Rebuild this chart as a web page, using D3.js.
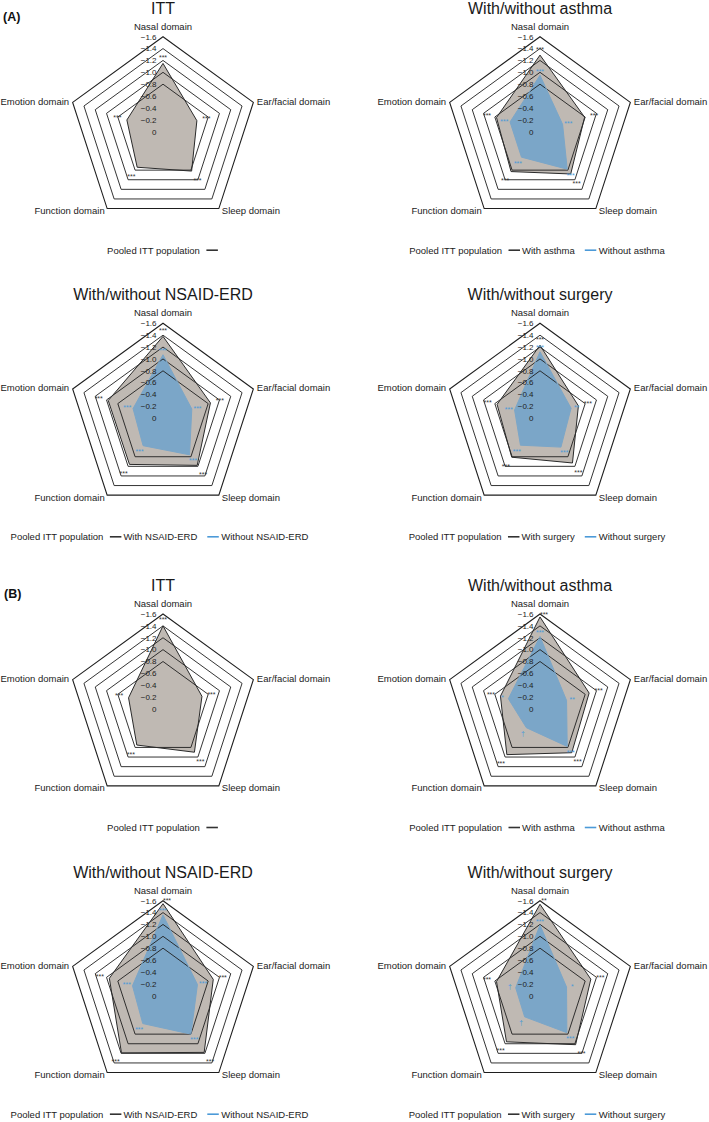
<!DOCTYPE html>
<html><head><meta charset="utf-8">
<script src="https://cdn.jsdelivr.net/npm/d3@7"></script>
<style>body{margin:0;background:#fff}svg{display:block;font-family:"Liberation Sans",Arial,sans-serif}</style>
</head><body><svg id="c" width="709" height="1122"></svg>
<script>
// ---------- data ----------
const axes = ["Nasal domain","Ear/facial domain","Sleep domain","Function domain","Emotion domain"];
const tickValues = [0,-0.2,-0.4,-0.6,-0.8,-1.0,-1.2,-1.4,-1.6];
const ringValues = [-0.8,-1.0,-1.2,-1.4,-1.6];
const titles = ["ITT","With/without asthma","With/without NSAID-ERD","With/without surgery"];
const legendCaption = "Pooled ITT population";
const withNames = ["","With asthma","With NSAID-ERD","With surgery"];
const withoutNames = [null,"Without asthma","Without NSAID-ERD","Without surgery"];
const panels = ["(A)","(B)"];

// Panel A  (order: Nasal, Ear/facial, Sleep, Function, Emotion)
const aItt            = [-1.15,-0.60,-0.82,-0.74,-0.64];
const aIttSig         = ["***","***","***","***","***"];
const aAsthmaWith     = [-1.29,-0.79,-0.88,-0.83,-0.77];
const aAsthmaWithSig  = ["***","***","***","***","***"];
const aAsthmaWithout  = [-0.95,-0.40,-0.78,-0.53,-0.53];
const aAsthmaWithoutSig = ["***","***","***","***","***"];
const aNsaidWith      = [-1.38,-0.84,-0.98,-0.96,-0.97];
const aNsaidWithSig   = ["***","***","***","***","***"];
const aNsaidWithout   = [-1.07,-0.51,-0.76,-0.57,-0.53];
const aNsaidWithoutSig = ["***","***","***","***","***"];
const aSurgWith       = [-1.23,-0.68,-0.93,-0.81,-0.76];
const aSurgWithSig    = ["***","***","***","***","***"];
const aSurgWithout    = [-1.12,-0.55,-0.60,-0.56,-0.45];
const aSurgWithoutSig = ["***","**","***","***","***"];

// Panel B
const bItt            = [-1.40,-0.69,-0.90,-0.75,-0.61];
const bIttSig         = ["***","***","***","***","***"];
const bAsthmaWith     = [-1.55,-0.87,-0.91,-0.95,-0.70];
const bAsthmaWithSig  = ["***","***","***","***","***"];
const bAsthmaWithout  = [-1.22,-0.47,-0.78,-0.39,-0.56];
const bAsthmaWithoutSig = ["***","**","***","†","*"];
const bNsaidWith      = [-1.55,-0.89,-1.18,-1.19,-0.95];
const bNsaidWithSig   = ["***","***","***","***","***"];
const bNsaidWithout   = [-1.36,-0.61,-0.80,-0.58,-0.54];
const bNsaidWithoutSig = ["***","***","***","***","***"];
const bSurgWith       = [-1.54,-0.90,-1.02,-0.96,-0.77];
const bSurgWithSig    = ["**","***","***","***","***"];
const bSurgWithout    = [-1.19,-0.47,-0.77,-0.44,-0.43];
const bSurgWithoutSig = ["***","*","***","†","†"];

// ---------- layout ----------
const colX = [163, 540];
const rowY = [131.7, 418.3, 709, 995.7];
const R = 95;
const grayFill = "#bfb9b3", blueFill = "#7ba6c8", blueLine = "#4c9ad8", dark = "#2a2a2a";

const charts = [
  {row:0,col:0,t:0,w:aItt,ws:aIttSig},
  {row:0,col:1,t:1,w:aAsthmaWith,ws:aAsthmaWithSig,o:aAsthmaWithout,os:aAsthmaWithoutSig},
  {row:1,col:0,t:2,w:aNsaidWith,ws:aNsaidWithSig,o:aNsaidWithout,os:aNsaidWithoutSig},
  {row:1,col:1,t:3,w:aSurgWith,ws:aSurgWithSig,o:aSurgWithout,os:aSurgWithoutSig},
  {row:2,col:0,t:0,w:bItt,ws:bIttSig},
  {row:2,col:1,t:1,w:bAsthmaWith,ws:bAsthmaWithSig,o:bAsthmaWithout,os:bAsthmaWithoutSig},
  {row:3,col:0,t:2,w:bNsaidWith,ws:bNsaidWithSig,o:bNsaidWithout,os:bNsaidWithoutSig},
  {row:3,col:1,t:3,w:bSurgWith,ws:bSurgWithSig,o:bSurgWithout,os:bSurgWithoutSig}
];

const svg = d3.select("#c");
const r = d3.scaleLinear().domain([0,-1.6]).range([0,R]);
const ang = d3.scalePoint().domain(d3.range(axes.length)).range([0, 2*Math.PI*(axes.length-1)/axes.length]);
const radial = d3.lineRadial().angle((d,i)=>ang(i)).radius(d=>r(d)).curve(d3.curveLinearClosed);
const ptR = (rr,i)=>{const a=ang(i); return [rr*Math.sin(a), -rr*Math.cos(a)];};

svg.append("text").attr("x",3).attr("y",21).attr("font-size",12.5).attr("font-weight","bold").attr("fill","#111").text(panels[0]);
svg.append("text").attr("x",4).attr("y",598).attr("font-size",12.5).attr("font-weight","bold").attr("fill","#111").text(panels[1]);

charts.forEach(c=>{
  const cx = colX[c.col], cy = rowY[c.row];
  const g = svg.append("g").attr("transform",`translate(${cx},${cy})`);
  g.append("text").attr("x",0).attr("y",-118).attr("text-anchor","middle").attr("font-size",16).attr("fill","#1a1a1a").text(titles[c.t]);
  g.append("path").attr("d",radial(c.w)).attr("fill",grayFill);
  if (c.o) g.append("path").attr("d",radial(c.o)).attr("fill",blueFill);
  ringValues.forEach(v=>{
    g.append("path").attr("d",radial(axes.map(()=>v))).attr("fill","none").attr("stroke","#1e1e1e").attr("stroke-width",v===-1.6?1.1:0.9);
  });
  g.append("path").attr("d",radial(c.w)).attr("fill","none").attr("stroke",dark).attr("stroke-width",1);
  if (c.o) g.append("path").attr("d",radial(c.o)).attr("fill","none").attr("stroke",blueFill).attr("stroke-width",1);
  tickValues.forEach(v=>{
    g.append("text").attr("x",-6.5).attr("y",-r(v)).attr("dy","0.35em").attr("text-anchor","end")
      .attr("font-size",8).attr("fill","#222").text(v===0?"0":"\u2212"+Math.abs(v).toFixed(1));
  });
  const fs = 9.5;
  axes.forEach((name,i)=>{
    const [vx,vy] = ptR(R,i);
    let x=vx, y=vy, anchor="middle";
    if (i===0){ y = vy-7; }
    else if (i===1){ x = vx+3.5; y = vy+2.5; anchor="start"; }
    else if (i===2){ x = vx+3; y = vy+5.5; anchor="start"; }
    else if (i===3){ x = vx-2.5; y = vy+5.5; anchor="end"; }
    else { x = vx-3.5; y = vy+2.5; anchor="end"; }
    g.append("text").attr("x",x).attr("y",y).attr("text-anchor",anchor).attr("font-size",fs).attr("fill","#222").text(name);
  });
  const sig = (vals,labs,col,off,offN)=>{
    vals.forEach((v,i)=>{
      let rr = r(v) + (i===0?offN:off);
      let x, y;
      if (i===0 && rr > R+1) { x = 4; y = -(R+1); }
      else { [x,y] = ptR(rr,i); }
      g.append("text").attr("x",x).attr("y",y+3.5).attr("text-anchor","middle").attr("font-size",7).attr("fill",col).text(labs[i]);
    });
  };
  sig(c.w,c.ws,"#333",10,7);
  if (c.o) sig(c.o,c.os,blueLine,6,5);
  const lg = g.append("g");
  let x = 0;
  const t1 = lg.append("text").attr("x",x).attr("y",3.4).attr("font-size",fs).attr("fill","#222").text(legendCaption);
  x += t1.node().getComputedTextLength() + 6.5;
  lg.append("line").attr("x1",x).attr("x2",x+11.5).attr("y1",0).attr("y2",0).attr("stroke","#333").attr("stroke-width",1.6);
  x += 11.5 + 2;
  if (withNames[c.t]) {
    const t2 = lg.append("text").attr("x",x).attr("y",3.4).attr("font-size",fs).attr("fill","#222").text(withNames[c.t]);
    x += t2.node().getComputedTextLength() + 10;
    lg.append("line").attr("x1",x).attr("x2",x+11.5).attr("y1",0).attr("y2",0).attr("stroke",blueLine).attr("stroke-width",1.6);
    x += 11.5 + 2.5;
    const t3 = lg.append("text").attr("x",x).attr("y",3.4).attr("font-size",fs).attr("fill","#222").text(withoutNames[c.t]);
    x += t3.node().getComputedTextLength();
  }
  const shift = c.t===2 ? -3.5 : (c.t===0 ? 0.5 : -3);
  lg.attr("transform",`translate(${-x/2+shift},118.5)`);
});
</script>
</body></html>
